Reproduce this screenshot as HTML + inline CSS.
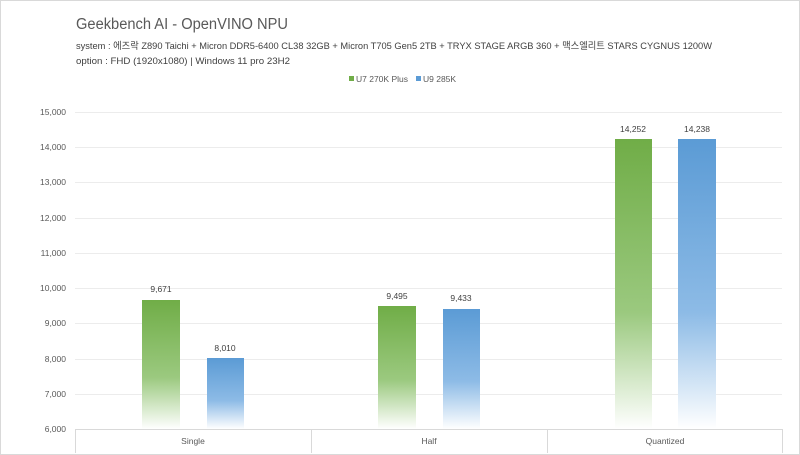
<!DOCTYPE html>
<html><head><meta charset="utf-8"><style>
html,body{margin:0;padding:0;background:#fff;}
svg{display:block;font-family:"Liberation Sans","Noto Sans CJK KR",sans-serif;}
</style></head><body>
<svg width="800" height="455" viewBox="0 0 800 455">
<defs>
<linearGradient id="g" x1="0" y1="0" x2="0" y2="1">
<stop offset="0" stop-color="#70ad47"/><stop offset="0.6" stop-color="#9bc97f"/><stop offset="1" stop-color="#ffffff"/></linearGradient>
<linearGradient id="b" x1="0" y1="0" x2="0" y2="1">
<stop offset="0" stop-color="#5b9bd5"/><stop offset="0.6" stop-color="#8dbbe6"/><stop offset="1" stop-color="#ffffff"/></linearGradient>
</defs>
<rect x="0.5" y="0.5" width="799" height="454" fill="#fff" stroke="#d9d9d9"/>
<text x="76" y="29" font-size="15.5" fill="#595959" textLength="212" lengthAdjust="spacingAndGlyphs">Geekbench AI - OpenVINO NPU</text>
<text x="76" y="49" font-size="9.5" fill="#404040" textLength="636" lengthAdjust="spacingAndGlyphs">system : 에즈락 Z890 Taichi + Micron DDR5-6400 CL38 32GB + Micron T705 Gen5 2TB + TRYX STAGE ARGB 360 + 맥스엘리트 STARS CYGNUS 1200W</text>
<text x="76" y="64" font-size="9.5" fill="#404040" textLength="214" lengthAdjust="spacingAndGlyphs">option :  FHD (1920x1080) | Windows 11 pro 23H2</text>
<rect x="349" y="76" width="5" height="5" fill="#70ad47"/>
<text x="356" y="82" font-size="8.5" fill="#595959">U7 270K Plus</text>
<rect x="416" y="76" width="5" height="5" fill="#5b9bd5"/>
<text x="423" y="82" font-size="8.5" fill="#595959">U9 285K</text>
<g stroke="#ececec" stroke-width="1">
<line x1="75" x2="782" y1="112.5" y2="112.5"/><line x1="75" x2="782" y1="147.5" y2="147.5"/>
<line x1="75" x2="782" y1="182.5" y2="182.5"/><line x1="75" x2="782" y1="218.5" y2="218.5"/>
<line x1="75" x2="782" y1="253.5" y2="253.5"/><line x1="75" x2="782" y1="288.5" y2="288.5"/>
<line x1="75" x2="782" y1="323.5" y2="323.5"/><line x1="75" x2="782" y1="359.5" y2="359.5"/>
<line x1="75" x2="782" y1="394.5" y2="394.5"/>
</g>
<g font-size="8.5" fill="#595959" text-anchor="end">
<text x="66" y="115">15,000</text><text x="66" y="150">14,000</text><text x="66" y="185">13,000</text>
<text x="66" y="221">12,000</text><text x="66" y="256">11,000</text><text x="66" y="291">10,000</text>
<text x="66" y="326">9,000</text><text x="66" y="362">8,000</text><text x="66" y="397">7,000</text><text x="66" y="432">6,000</text>
</g>
<rect x="142" y="300" width="38" height="129" fill="url(#g)"/>
<rect x="207" y="358" width="37" height="71" fill="url(#b)"/>
<rect x="378" y="306" width="38" height="123" fill="url(#g)"/>
<rect x="443" y="309" width="37" height="120" fill="url(#b)"/>
<rect x="615" y="139" width="37" height="290" fill="url(#g)"/>
<rect x="678" y="139" width="38" height="290" fill="url(#b)"/>
<g font-size="8.5" fill="#404040" text-anchor="middle">
<text x="161" y="292">9,671</text><text x="225" y="351">8,010</text>
<text x="397" y="299">9,495</text><text x="461" y="301">9,433</text>
<text x="633" y="132">14,252</text><text x="697" y="132">14,238</text>
</g>
<g stroke="#d9d9d9" fill="none">
<line x1="75" x2="782" y1="429.5" y2="429.5"/>
<line x1="75.5" x2="75.5" y1="429" y2="453"/><line x1="311.5" x2="311.5" y1="429" y2="453"/>
<line x1="547.5" x2="547.5" y1="429" y2="453"/><line x1="782.5" x2="782.5" y1="429" y2="453"/>
</g>
<g font-size="8.5" fill="#595959" text-anchor="middle">
<text x="193" y="444">Single</text><text x="429" y="444">Half</text><text x="665" y="444">Quantized</text>
</g>
</svg>
</body></html>
